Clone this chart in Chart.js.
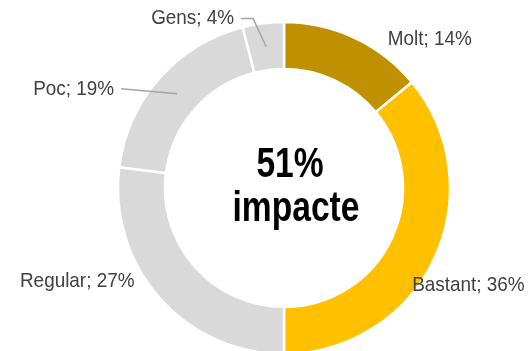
<!DOCTYPE html>
<html>
<head>
<meta charset="utf-8">
<script src="https://cdn.jsdelivr.net/npm/chart.js@4.4.1/dist/chart.umd.min.js"></script>
<style>
  html, body { margin: 0; padding: 0; background: #fff; overflow: hidden; }
  #wrap { width: 528px; height: 351px; position: relative; }
</style>
</head>
<body>
<div id="wrap"><canvas id="graphImpact"></canvas></div>
<script>
const categories = ['Molt', 'Bastant', 'Regular', 'Poc', 'Gens'];
const shares = [14, 36, 27, 19, 4];
const sliceColors = ['#BF9000', '#FFC000', '#D9D9D9', '#D9D9D9', '#D9D9D9'];
const centerLines = ['51%', 'impacte'];

// where each label sits, relative to the slice (outer edge or mid ring when a leader is used)
const labelLayout = [
    {dx: 33, dy: 1, align: 'left'},
    {dx: -22, dy: 27, align: 'left'},
    {dx: -25, dy: -17, align: 'right'},
    {leader: [[-56, -5]], align: 'right'},
    {leader: [[-13, -28], [-25, -28]], align: 'right'}
];

const labelFont = '21px "Liberation Sans", Arial, sans-serif';
const labelSquash = 0.9;
const centerFont = 'bold 42px "Liberation Sans", Arial, sans-serif';
const centerSquash = 0.8;

function drawText(ctx, text, x, y, align, squash) {
    ctx.save();
    ctx.translate(x, y);
    ctx.scale(squash, 1);
    ctx.textAlign = align;
    ctx.fillText(text, 0, 0);
    ctx.restore();
}

/** Draws "Name; NN%" labels with optional leader lines */
const sliceLabels = {
    id: 'sliceLabels',
    afterDatasetsDraw(chart) {
        const ctx = chart.ctx;
        const meta = chart.getDatasetMeta(0);
        ctx.save();
        ctx.font = labelFont;
        ctx.fillStyle = '#404040';
        ctx.textBaseline = 'middle';
        meta.data.forEach((arc, i) => {
            const p = arc.getProps(['x', 'y', 'startAngle', 'endAngle', 'outerRadius', 'innerRadius'], true);
            const mid = (p.startAngle + p.endAngle) / 2;
            const text = categories[i] + '; ' + shares[i] + '%';
            const lay = labelLayout[i];
            if (lay.leader) {
                const r = (p.outerRadius + p.innerRadius) / 2;
                const sx = p.x + Math.cos(mid) * r;
                const sy = p.y + Math.sin(mid) * r;
                ctx.beginPath();
                ctx.strokeStyle = '#A6A6A6';
                ctx.lineWidth = 1.5;
                ctx.moveTo(sx, sy);
                lay.leader.forEach(pt => ctx.lineTo(sx + pt[0], sy + pt[1]));
                ctx.stroke();
                const end = lay.leader[lay.leader.length - 1];
                drawText(ctx, text, sx + end[0] - 7, sy + end[1], lay.align, labelSquash);
            } else {
                const ox = p.x + Math.cos(mid) * p.outerRadius;
                const oy = p.y + Math.sin(mid) * p.outerRadius;
                drawText(ctx, text, ox + lay.dx, oy + lay.dy, lay.align, labelSquash);
            }
        });
        ctx.restore();
    }
};

/** Big bold text in the hole */
const centerText = {
    id: 'centerText',
    afterDatasetsDraw(chart) {
        const ctx = chart.ctx;
        const arc = chart.getDatasetMeta(0).data[0];
        ctx.save();
        ctx.font = centerFont;
        ctx.fillStyle = '#000';
        ctx.textBaseline = 'alphabetic';
        drawText(ctx, centerLines[0], arc.x + 6, arc.y - 11, 'center', centerSquash);
        drawText(ctx, centerLines[1], arc.x + 12, arc.y + 33, 'center', centerSquash);
        ctx.restore();
    }
};

new Chart(document.getElementById('graphImpact'), {
    type: 'doughnut',
    data: {
        labels: categories,
        datasets: [{
            data: shares,
            backgroundColor: sliceColors,
            borderColor: '#FFFFFF',
            borderWidth: 2.5,
            clip: false
        }]
    },
    options: {
        responsive: true,
        maintainAspectRatio: false,
        animation: false,
        radius: 166,
        cutout: '71.7%',
        rotation: 0,
        layout: { padding: { left: 40, right: 0, top: 25, bottom: 0 } },
        plugins: {
            legend: { display: false },
            tooltip: { enabled: false }
        }
    },
    plugins: [sliceLabels, centerText]
});
</script>
</body>
</html>
